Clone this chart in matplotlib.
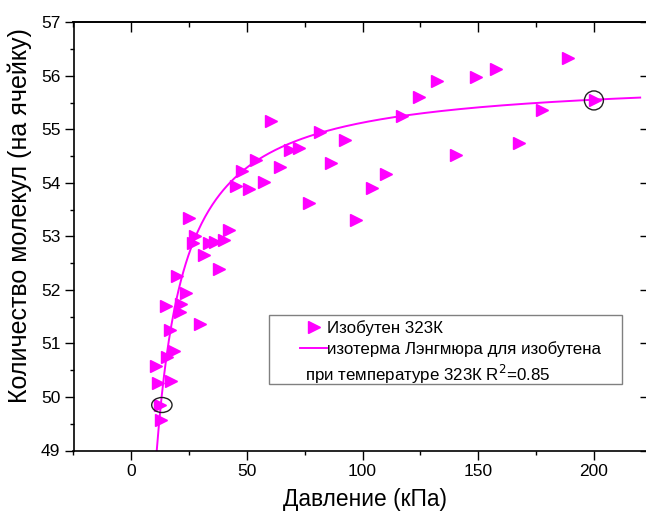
import numpy as np
import matplotlib
matplotlib.use("Agg")
import matplotlib.pyplot as plt
from matplotlib.patches import Ellipse, Rectangle
from matplotlib.ticker import MultipleLocator, NullFormatter, NullLocator
from matplotlib.lines import Line2D

plt.rcParams["font.family"] = ["Liberation Sans", "DejaVu Sans"]

# ---------------------------------------------------------------------------
# Data
# ---------------------------------------------------------------------------

pressure_kpa = [10.5, 11.5, 12.2, 13.0, 14.8, 15.4, 16.6, 17.3, 18.3, 19.7,
                20.9, 21.6, 23.5, 24.9, 26.5, 27.6, 29.8, 31.6, 33.4, 36.0,
                37.9, 40.0, 42.3, 45.2, 47.8, 50.7, 53.8, 57.2, 60.5, 64.3,
                68.4, 72.4, 76.9, 81.4, 86.2, 92.2, 97.3, 104.2, 110.2, 117.2,
                124.4, 132.1, 140.2, 148.9, 157.8, 167.6, 177.7, 188.8, 200.3]
molecules = [50.58, 50.26, 49.85, 49.57, 51.70, 50.74, 51.26, 50.29, 50.85, 52.26,
             51.59, 51.74, 51.95, 53.35, 52.88, 53.00, 51.36, 52.66, 52.88, 52.90,
             52.39, 52.93, 53.12, 53.94, 54.23, 53.88, 54.42, 54.02, 55.16, 54.29,
             54.61, 54.65, 53.62, 54.95, 54.37, 54.81, 53.31, 53.90, 54.17, 55.25,
             55.60, 55.91, 54.52, 55.98, 56.13, 54.74, 55.36, 56.33, 55.55]

# Langmuir isotherm fit parameters: q = q_max * K * P / (1 + K * P)
q_max = 55.99
k_langmuir = 0.6376
fit_range = (11.0, 220.0)

# highlighted points (circled on the chart)
circled_x = [13.2, 200.0]
circled_y = [49.85, 55.54]
circled_w = [8.8, 8.2]      # ellipse width in kPa
circled_h = [0.28, 0.355]   # ellipse height in molecules

label_points = "Изобутен 323К"
label_fit = "изотерма Лэнгмюра для изобутена"
label_fit2 = "при температуре 323К R$^{2}$=0.85"

MAGENTA = "#ff00ff"

# axes box in figure pixels (646 x 518)
AX_LEFT, AX_TOP, AX_W, AX_H = 73.5, 22.3, 573.6, 428.2


def langmuir(p, qm, k):
    return qm * k * p / (1.0 + k * p)


def px_to_axes(px, py):
    return (px - AX_LEFT) / AX_W, (AX_TOP + AX_H - py) / AX_H


def main():
    fig = plt.figure(figsize=(6.46, 5.18), dpi=100)
    ax = fig.add_axes([AX_LEFT / 646, 1 - (AX_TOP + AX_H) / 518,
                       AX_W / 646, AX_H / 518])

    p_fit = np.linspace(fit_range[0], fit_range[1], 400)
    ax.plot(p_fit, langmuir(p_fit, q_max, k_langmuir), color=MAGENTA, lw=1.4,
            zorder=2)
    ax.plot(pressure_kpa, molecules, ls="none", marker=">", ms=8.8,
            color=MAGENTA, mec=MAGENTA, zorder=3)

    for cx, cy, w, h in zip(circled_x, circled_y, circled_w, circled_h):
        ax.add_patch(Ellipse((cx, cy), w, h, fill=False, ec="#222222",
                             lw=1.0, zorder=4))

    ax.set_xlim(-25, 223)
    ax.set_ylim(49, 57)
    ax.xaxis.set_major_locator(MultipleLocator(50))
    ax.xaxis.set_minor_locator(MultipleLocator(25))
    ax.yaxis.set_major_locator(MultipleLocator(1))
    ax.yaxis.set_minor_locator(MultipleLocator(0.5))

    ax.tick_params(axis="both", which="major", labelsize=12.5, length=6.5,
                   width=1.0, color="black", pad=3, direction="out")
    ax.tick_params(axis="both", which="minor", length=3, width=1.0,
                   direction="out")

    # inward ticks on the top and right frame
    top = ax.secondary_xaxis("top")
    top.xaxis.set_major_locator(MultipleLocator(50))
    top.xaxis.set_minor_locator(MultipleLocator(25))
    top.xaxis.set_major_formatter(NullFormatter())
    top.tick_params(which="major", direction="in", length=7, width=1.0)
    top.tick_params(which="minor", direction="in", length=3.5, width=1.0)
    right = ax.secondary_yaxis("right")
    right.yaxis.set_major_locator(MultipleLocator(1))
    right.yaxis.set_minor_locator(NullLocator())
    right.yaxis.set_major_formatter(NullFormatter())
    right.tick_params(which="major", direction="in", length=5, width=1.0)

    for a in (ax, top, right):
        for s in a.spines.values():
            s.set_linewidth(1.2)
            s.set_color("black")

    ax.set_xlabel("Давление (кПа)", fontsize=16.4)
    ax.set_ylabel("Количество молекул (на ячейку)", fontsize=18)
    ax.xaxis.set_label_coords(0.508, -0.087)
    ax.yaxis.set_label_coords(-0.0715, 0.548)

    # legend: frame drawn separately, Origin-style
    fx, fy = px_to_axes(269, 384)
    fx2, fy2 = px_to_axes(622, 315)
    ax.add_patch(Rectangle((fx, fy), fx2 - fx, fy2 - fy, transform=ax.transAxes,
                           fc="white", ec="#808080", lw=1.0, zorder=5,
                           clip_on=False))

    handles = [
        Line2D([], [], ls="none", marker=">", ms=8.8, color=MAGENTA),
        Line2D([], [], color=MAGENTA, lw=1.4),
        Line2D([], [], ls="none"),
    ]
    leg = ax.legend(handles, [label_points, label_fit, label_fit2],
                    loc="upper left", bbox_to_anchor=px_to_axes(300, 320),
                    fontsize=12.2, frameon=False, handlelength=1.6,
                    handletextpad=0.0, borderpad=0.0, labelspacing=0.33,
                    borderaxespad=0.0)
    leg.set_zorder(6)
    leg.get_texts()[2].set_x(-22)

    fig.savefig("out.png", dpi=100)


if __name__ == "__main__":
    main()
